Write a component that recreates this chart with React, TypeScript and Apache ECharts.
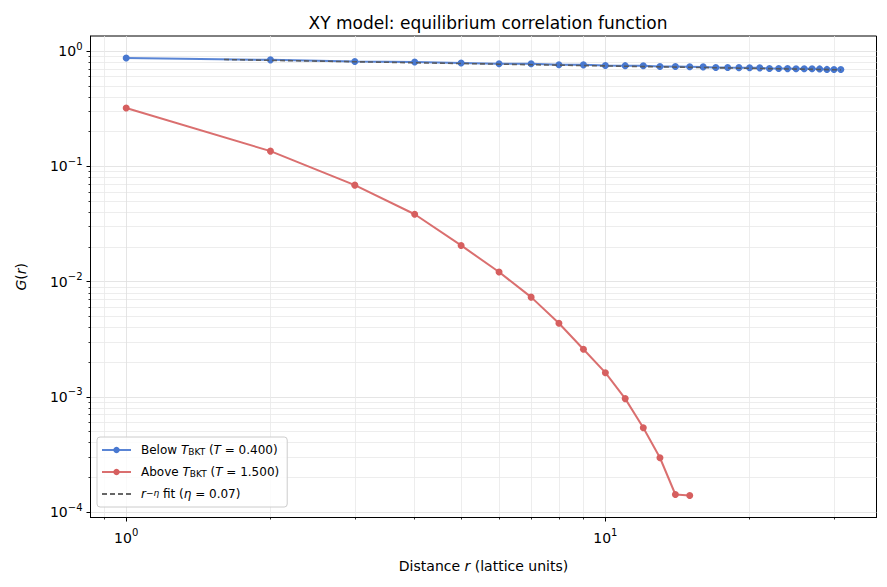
import React, { useEffect, useRef } from 'react';
import * as echarts from 'echarts';

// distance r (lattice units)
const radiiBelow = [
  1, 2, 3, 4, 5, 6, 7, 8, 9, 10, 11, 12, 13, 14, 15, 16,
  17, 18, 19, 20, 21, 22, 23, 24, 25, 26, 27, 28, 29, 30, 31,
];
// G(r) below T_BKT (T = 0.400)
const gBelow = [
  0.873, 0.840, 0.812, 0.805, 0.790, 0.776, 0.777, 0.762, 0.760, 0.750, 0.748,
  0.746, 0.736, 0.735, 0.733, 0.730, 0.722, 0.720, 0.719, 0.717, 0.716, 0.707,
  0.706, 0.705, 0.704, 0.703, 0.702, 0.701, 0.694, 0.693, 0.692,
];
const radiiAbove = [1, 2, 3, 4, 5, 6, 7, 8, 9, 10, 11, 12, 13, 14, 15];
// G(r) above T_BKT (T = 1.500)
const gAbove = [
  0.321, 0.1356, 0.0687, 0.0384, 0.0206, 0.0121, 0.00733, 0.00435, 0.00259,
  0.00162, 0.000965, 0.00054, 0.000296, 0.000142, 0.000139,
];
// r^-eta fit line end points
const fitR = [1.6, 31];
const fitG = [0.845, 0.688];

const xMajorTicks = [1, 10];
const yMajorTicks = [1e-4, 1e-3, 1e-2, 1e-1, 1];
const xMinorTicks = [0.9, 2, 3, 4, 5, 6, 7, 8, 9, 20, 30];
const yMinorTicks = [
  2e-4, 3e-4, 4e-4, 5e-4, 6e-4, 7e-4, 8e-4, 9e-4,
  2e-3, 3e-3, 4e-3, 5e-3, 6e-3, 7e-3, 8e-3, 9e-3,
  2e-2, 3e-2, 4e-2, 5e-2, 6e-2, 7e-2, 8e-2, 9e-2,
  0.2, 0.3, 0.4, 0.5, 0.6, 0.7, 0.8, 0.9,
];

const X_MIN = 0.8424;
const X_MAX = 36.8;
const Y_MIN = 8.97e-5;
const Y_MAX = 1.353;

const FONT = 'DejaVu Sans';
const BLUE = '#4878d0';
const RED = '#d65f5f';
const FIT = '#555555';

const NAME_BELOW = 'Below T_BKT (T = 0.400)';
const NAME_ABOVE = 'Above T_BKT (T = 1.500)';
const NAME_FIT = 'r^-eta fit (eta = 0.07)';

const legendText: Record<string, string> = {
  [NAME_BELOW]: 'Below {i|T}{s|BKT} ({i|T} = 0.400)',
  [NAME_ABOVE]: 'Above {i|T}{s|BKT} ({i|T} = 1.500)',
  [NAME_FIT]: '{i|r}{p|\u2212\u03b7} fit ({i|\u03b7} = 0.07)',
};

const pow10 = (v: number) => {
  const e = Math.round(Math.log10(v));
  return `{b|10}{s|${e < 0 ? '\u2212' + -e : e}}`;
};

const tickRich = {
  b: { fontFamily: FONT, fontSize: 14, lineHeight: 20, color: '#000' },
  s: { fontFamily: FONT, fontSize: 10, lineHeight: 10, verticalAlign: 'top', color: '#000' },
};

const nameStyle = {
  fontFamily: FONT,
  fontSize: 14,
  color: '#000',
  rich: { i: { fontFamily: FONT, fontSize: 14, fontStyle: 'italic', color: '#000' } },
};

const majorAxis = (ticks: number[], min: number, max: number, position: string, margin: number, extra: object) => ({
  type: 'log',
  logBase: 10,
  min,
  max,
  position,
  axisLine: { show: true, onZero: false, lineStyle: { color: '#000', width: 1 } },
  axisTick: { show: true, customValues: ticks, length: 4, lineStyle: { color: '#000', width: 1 } },
  axisLabel: { customValues: ticks, formatter: pow10, rich: tickRich, margin },
  splitLine: { show: true, lineStyle: { color: '#dedede', width: 0.8 } },
  ...extra,
});

const minorAxis = (ticks: number[], min: number, max: number, position: string) => ({
  type: 'log',
  logBase: 10,
  min,
  max,
  position,
  axisLine: { show: false, onZero: false },
  axisTick: { show: true, customValues: ticks, length: 2, lineStyle: { color: '#000', width: 0.8 } },
  axisLabel: { show: false, customValues: ticks },
  splitLine: { show: true, lineStyle: { color: '#e8e8e8', width: 0.8 } },
});

const App: React.FC = () => {
  const chartRef = useRef<HTMLDivElement>(null);

  useEffect(() => {
    document.body.style.margin = '0';
    if (!chartRef.current) return;
    const chart = echarts.init(chartRef.current, undefined, { renderer: 'svg' });
    chart.setOption({
      animation: false,
      backgroundColor: '#ffffff',
      title: {
        text: 'XY model: equilibrium correlation function',
        left: 483,
        top: 9,
        textAlign: 'center',
        textStyle: { fontFamily: FONT, fontSize: 17, fontWeight: 'normal', color: '#000' },
      },
      grid: {
        left: 90.5,
        top: 36,
        width: 786,
        height: 481.5,
        show: true,
        borderColor: '#000',
        borderWidth: 1,
        backgroundColor: 'transparent',
      },
      legend: {
        left: 97,
        top: 437,
        orient: 'vertical',
        itemWidth: 29,
        itemHeight: 8,
        itemGap: 10,
        padding: [7, 8, 7, 4],
        backgroundColor: 'rgba(255,255,255,0.8)',
        borderColor: '#cccccc',
        borderWidth: 1,
        borderRadius: 3,
        data: [
          NAME_BELOW,
          NAME_ABOVE,
          { name: NAME_FIT, itemStyle: { color: 'rgba(0,0,0,0)', borderWidth: 0 } },
        ],
        formatter: (name: string) => legendText[name],
        textStyle: {
          fontFamily: FONT,
          fontSize: 12,
          color: '#000',
          padding: [0, 0, 0, 5],
          rich: {
            i: { fontFamily: FONT, fontSize: 12, fontStyle: 'italic', color: '#000' },
            s: { fontFamily: FONT, fontSize: 9, verticalAlign: 'bottom', lineHeight: 9, color: '#000' },
            p: { fontFamily: FONT, fontSize: 9, verticalAlign: 'top', lineHeight: 9, fontStyle: 'italic', color: '#000' },
          },
        },
      },
      xAxis: [
        majorAxis(xMajorTicks, X_MIN, X_MAX, 'bottom', 10, {
          name: 'Distance {i|r} (lattice units)',
          nameLocation: 'middle',
          nameGap: 41,
          nameTextStyle: nameStyle,
        }),
        minorAxis(xMinorTicks, X_MIN, X_MAX, 'bottom'),
      ],
      yAxis: [
        majorAxis(yMajorTicks, Y_MIN, Y_MAX, 'left', 8, {
          name: '{i|G}({i|r})',
          nameLocation: 'middle',
          nameGap: 63,
          nameTextStyle: nameStyle,
        }),
        minorAxis(yMinorTicks, Y_MIN, Y_MAX, 'left'),
      ],
      series: [
        {
          name: NAME_BELOW,
          type: 'line',
          xAxisIndex: 0,
          yAxisIndex: 0,
          data: radiiBelow.map((r, i) => [r, gBelow[i]]),
          symbol: 'circle',
          symbolSize: 7,
          lineStyle: { color: BLUE, width: 2, opacity: 0.9 },
          itemStyle: { color: BLUE },
          z: 3,
        },
        {
          name: NAME_ABOVE,
          type: 'line',
          xAxisIndex: 0,
          yAxisIndex: 0,
          data: radiiAbove.map((r, i) => [r, gAbove[i]]),
          symbol: 'circle',
          symbolSize: 7,
          lineStyle: { color: RED, width: 2, opacity: 0.9 },
          itemStyle: { color: RED },
          z: 3,
        },
        {
          name: NAME_FIT,
          type: 'line',
          xAxisIndex: 0,
          yAxisIndex: 0,
          data: fitR.map((r, i) => [r, fitG[i]]),
          symbol: 'none',
          lineStyle: { color: FIT, width: 1.6, type: [5, 3], opacity: 0.9 },
          itemStyle: { color: FIT },
          z: 4,
        },
      ],
    });
    return () => chart.dispose();
  }, []);

  return <div ref={chartRef} style={{ width: 887, height: 587 }} />;
};

export default App;
